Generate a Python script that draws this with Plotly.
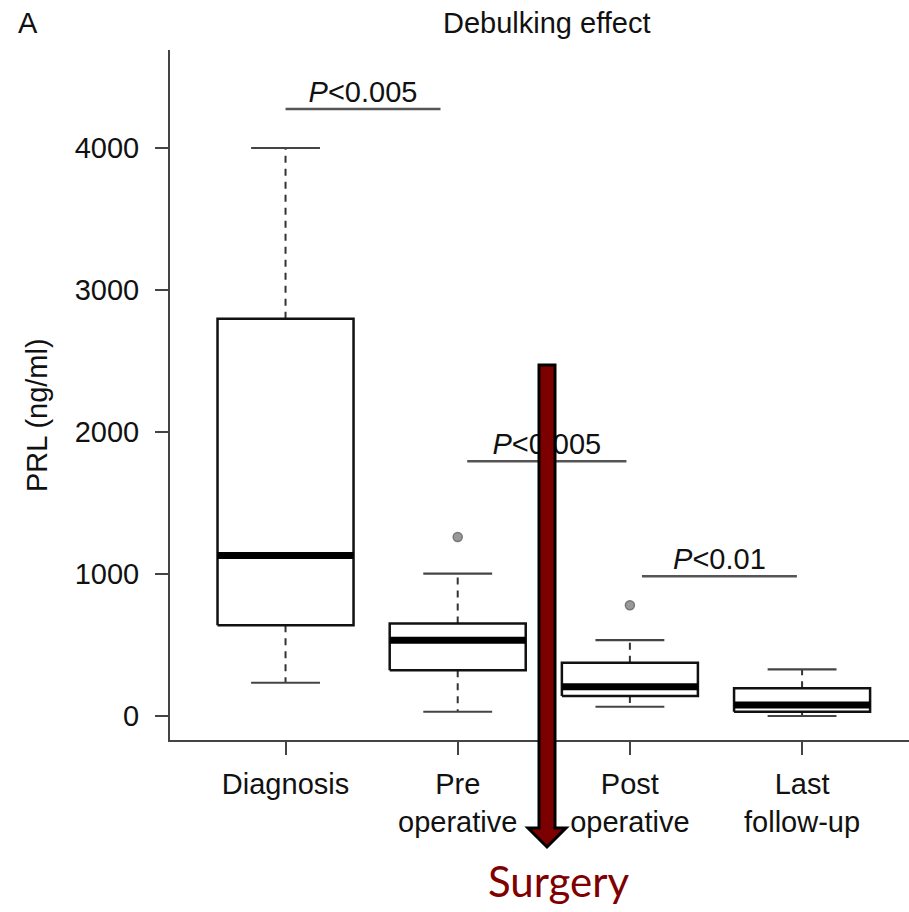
import plotly.graph_objects as go

# ---- data ----
categories = ["Diagnosis", "Pre<br>operative", "Post<br>operative", "Last<br>follow-up"]
positions = [1, 2, 3, 4]
whisker_low = [234, 30, 65, 0]
q1 = [639, 323, 141, 30]
median = [1131, 534, 206, 77]
q3 = [2797, 651, 375, 195]
whisker_high = [4000, 1003, 534, 328]
outlier_pos = [2, 3]
outlier_val = [1260, 780]

comp_x0 = [1.0, 2.055, 3.07]
comp_x1 = [1.90, 2.98, 3.97]
comp_y = [4275, 1794, 984]
comp_text = ["<i>P</i>&lt;0.005", "<i>P</i>&lt;0.005", "<i>P</i>&lt;0.01"]

y_ticks = [0, 1000, 2000, 3000, 4000]

FONT = "Liberation Sans, Arial, Helvetica, sans-serif"
FS = 29
BOX_HALF = 0.395
CAP_HALF = 0.2

fig = go.Figure()

for p, lo, a, m, b, hi in zip(positions, whisker_low, q1, median, q3, whisker_high):
    # dashed whiskers
    fig.add_trace(go.Scatter(x=[p, p, None, p, p], y=[b, hi, None, a, lo], mode="lines",
                             line=dict(color="#333333", width=2, dash="7px,6px"),
                             showlegend=False, hoverinfo="skip"))
    # caps
    fig.add_trace(go.Scatter(x=[p - CAP_HALF, p + CAP_HALF, None, p - CAP_HALF, p + CAP_HALF],
                             y=[hi, hi, None, lo, lo], mode="lines",
                             line=dict(color="#444444", width=2.2),
                             showlegend=False, hoverinfo="skip"))
    # box
    fig.add_trace(go.Scatter(x=[p - BOX_HALF, p + BOX_HALF, p + BOX_HALF, p - BOX_HALF, p - BOX_HALF],
                             y=[a, a, b, b, a], mode="lines", fill="toself", fillcolor="white",
                             line=dict(color="#111111", width=2.5),
                             showlegend=False, hoverinfo="skip"))
    # median
    fig.add_trace(go.Scatter(x=[p - BOX_HALF, p + BOX_HALF], y=[m, m], mode="lines",
                             line=dict(color="black", width=7),
                             showlegend=False, hoverinfo="skip"))

fig.add_trace(go.Scatter(x=outlier_pos, y=outlier_val, mode="markers",
                         marker=dict(size=9, color="#999999", line=dict(color="#777777", width=1.5)),
                         showlegend=False, hoverinfo="skip"))

# comparison brackets
for x0, x1, yv, t in zip(comp_x0, comp_x1, comp_y, comp_text):
    fig.add_trace(go.Scatter(x=[x0, x1], y=[yv, yv], mode="lines",
                             line=dict(color="#555555", width=2.5),
                             showlegend=False, hoverinfo="skip"))
    fig.add_trace(go.Scatter(x=[(x0 + x1) / 2], y=[yv], mode="text", text=[t],
                             textposition="top center",
                             textfont=dict(family=FONT, size=FS, color="#111111"),
                             showlegend=False, hoverinfo="skip", cliponaxis=False))

W, H = 909, 912
L, R, T, B = 170, 0, 50, 172
PW, PH = W - L - R, H - T - B


def px(xp):
    return (xp - L) / PW


def py(yp):
    return (H - B - yp) / PH


# Surgery arrow (decoration, paper coordinates)
pts = [(539, 365), (555, 365), (555, 828), (566, 828), (547, 847), (528, 828), (539, 828)]
path = "M " + " L ".join(f"{px(a):.5f},{py(b):.5f}" for a, b in pts) + " Z"
fig.add_shape(type="path", path=path, xref="paper", yref="paper",
              fillcolor="#7d0000", line=dict(color="black", width=3), layer="above")

fig.add_annotation(x=px(559), y=py(881), xref="paper", yref="paper", text="Surgery",
                   showarrow=False, xanchor="center", yanchor="middle",
                   font=dict(family="Lato, Open Sans, sans-serif", size=42, color="#800000"))
fig.add_annotation(x=px(546), y=py(23), xref="paper", yref="paper", text="Debulking effect",
                   showarrow=False, xanchor="center", yanchor="middle",
                   font=dict(family=FONT, size=FS, color="#111111"))
fig.add_annotation(x=px(28), y=py(23), xref="paper", yref="paper", text="A",
                   showarrow=False, xanchor="center", yanchor="middle",
                   font=dict(family=FONT, size=FS, color="#111111"))
fig.add_annotation(x=px(37), y=py(415), xref="paper", yref="paper", text="PRL (ng/ml)",
                   showarrow=False, xanchor="center", yanchor="middle", textangle=-90,
                   font=dict(family=FONT, size=FS, color="#111111"))

fig.update_layout(
    width=W, height=H,
    margin=dict(l=L, r=R, t=T, b=B, pad=0),
    plot_bgcolor="white", paper_bgcolor="white",
    font=dict(family=FONT, size=FS, color="#111111"),
    showlegend=False,
)
fig.update_xaxes(range=[0.329, 4.621], tickvals=positions, ticktext=categories,
                 showline=True, linecolor="#444444", linewidth=2, ticks="outside",
                 ticklen=13, tickwidth=2, tickcolor="#444444", showgrid=False,
                 zeroline=False, tickfont=dict(family=FONT, size=FS, color="#111111"),
                 ticklabelstandoff=4, fixedrange=True)
fig.update_yaxes(range=[-169, 4690], tickvals=y_ticks, ticktext=[str(v) for v in y_ticks],
                 showline=True, linecolor="#444444", linewidth=2, ticks="outside",
                 ticklen=13, tickwidth=2, tickcolor="#444444", showgrid=False,
                 zeroline=False, tickfont=dict(family=FONT, size=FS, color="#111111"),
                 ticklabelstandoff=10, fixedrange=True)

fig.write_html("out.html", config={"displayModeBar": False},
               post_script="document.body.style.margin='0';document.body.style.overflow='hidden';")
